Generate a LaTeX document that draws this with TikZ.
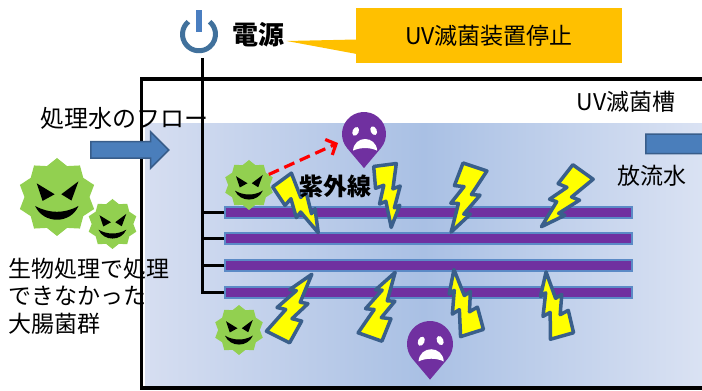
\documentclass[tikz,border=0pt]{standalone}
\usepackage{fontspec}
\setmainfont{Noto Sans CJK JP}
\usetikzlibrary{positioning,shapes.geometric,shapes.arrows,arrows.meta,calc}
\definecolor{uvWaterL}{HTML}{D6DEF1}
\definecolor{uvWaterM}{HTML}{A9C0E4}
\definecolor{uvWaterR}{HTML}{DAE2F3}
\definecolor{uvPowerArc}{HTML}{41719C}
\definecolor{uvPowerBar}{HTML}{4A7EC0}
\definecolor{uvCallout}{HTML}{FFC000}
\definecolor{uvGerm}{HTML}{92D050}
\definecolor{uvDead}{HTML}{7030A0}
\definecolor{uvLampLine}{HTML}{5B8AC6}
\definecolor{uvBoltLine}{HTML}{3A5F8B}
\definecolor{uvBoltFill}{HTML}{FFFF00}
\definecolor{uvFlowFill}{HTML}{4A7EBB}
\definecolor{uvFlowLine}{HTML}{385D8A}
\definecolor{uvRed}{HTML}{FF0000}

\begin{document}
\begin{tikzpicture}[
    x=1pt, y=1pt,
    >=Stealth,
    wire/.style={line width=3pt, black},
    lamp/.style={
        rectangle,
        fill=uvDead,
        draw=uvLampLine,
        line width=2pt,
        minimum width=407pt,
        minimum height=11pt,
        inner sep=0pt,
    },
    flow/.style={
        single arrow,
        fill=uvFlowFill,
        draw=uvFlowLine,
        line width=1.5pt,
        single arrow head extend=10pt,
    },
    jp/.style={font=\fontsize{23}{27.5}\selectfont, inner sep=0pt},
    jpbold/.style={font=\fontsize{25}{30}\selectfont\bfseries, inner sep=0pt},
    germbody/.style={star, star points=10, star point ratio=1.2, fill=uvGerm, inner sep=0pt},
    pics/germ/.style={code={
        \node[germbody, minimum size=2*#1] (-body) at (0,0) {};
        \begin{scope}[scale=#1]
            % angry eyes and grin
            \fill (-0.52,0.35) -- (-0.06,0.07) -- (-0.37,-0.10) -- cycle;
            \fill (0.55,0.40) -- (0.11,0.07) -- (0.37,-0.09) -- cycle;
            \fill (-0.56,-0.23) .. controls (-0.2,-0.43) and (0.2,-0.43) .. (0.55,-0.23)
                .. controls (0.35,-0.70) and (-0.35,-0.70) .. cycle;
        \end{scope}
    }},
    pics/deadgerm/.style={code={
        \begin{scope}[scale=#1]
            \fill[uvDead] (0,-1.55) -- (-40.2:1) arc[start angle=-40.2, end angle=219.8, radius=1] -- cycle;
            \fill[white, rotate around={-25:(-0.38,0.12)}] (-0.38,0.12) ellipse[x radius=0.14, y radius=0.21];
            \fill[white, rotate around={25:(0.44,0.15)}] (0.44,0.15) ellipse[x radius=0.14, y radius=0.21];
            \fill[white] (-0.5,-0.76) .. controls (-0.45,-0.05) and (0.55,-0.05) .. (0.6,-0.76)
                .. controls (0.3,-0.6) and (-0.2,-0.6) .. cycle;
            \coordinate (-hit) at (-1.18,-0.41);
        \end{scope}
    }},
    pics/flash/.style={code={
        \draw[uvBoltLine, fill=uvBoltFill, line width=3.5pt, line join=round]
            (0,-12) -- (0,12) -- (26,5) -- (24,13) -- (46,4) -- (44,10) -- (66,-2)
            -- (38,-4) -- (40,-11) -- (21,-4) -- (23,-13) -- cycle;
    }},
]
    \useasboundingbox (0,0) rectangle (702,391);
    \clip (0,0) rectangle (702,391);

    % Tank with water
    \shade[left color=uvWaterL, right color=uvWaterR, middle color=uvWaterM] (145,5) rectangle (702,267);
    \draw[line width=3.5pt] (710,312) -| (141.5,3) -- (710,3);

    % UV lamps
    \node[lamp] (lamp1) at (428.5,178) {};
    \node[lamp] (lamp2) at (428.5,152) {};
    \node[lamp] (lamp3) at (428.5,125) {};
    \node[lamp] (lamp4) at (428.5,98.5) {};

    % Power switch and supply line
    \node[circle, minimum size=38pt, inner sep=0pt] (power) at (199,356.7) {};
    \draw[uvPowerArc, line width=5pt] ($(power.center)+(130:16.5)$) arc[start angle=130, end angle=410, radius=16.5];
    \draw[uvPowerBar, line width=6.7pt] ($(power.center)+(0,2.3)$) -- ++(0,22);
    \coordinate (bus) at (202,333);
    \draw[wire] (bus) |- (lamp4.west);
    \draw[wire] (lamp1.west) -- (lamp1.west -| bus);
    \draw[wire] (lamp2.west) -- (lamp2.west -| bus);
    \draw[wire] (lamp3.west) -- (lamp3.west -| bus);

    \node[jpbold, font=\fontsize{26}{30}\selectfont\bfseries] (mains) at (258.5,356) {電源};
    \node[rectangle, fill=uvCallout, minimum width=266pt, minimum height=55pt, jp] (notice) at (489,355.5) {UV滅菌装置停止};
    \fill[uvCallout] ($(mains.east)+(2,-6)$) -- ($(notice.west)+(1,-4)$) -- ($(notice.west)+(1,-18.5)$) -- cycle;

    % Germs
    \pic (germA) at (57,194) {germ=39};
    \pic (germB) at (112.5,167) {germ=25};
    \pic (germC) at (249,206) {germ=25};
    \pic (germD) at (239,61) {germ=25};

    % Inactivated germs
    \pic (deadA) at (364,257) {deadgerm=22};
    \pic (deadB) at (430,47) {deadgerm=23};

    % UV rays
    \pic[rotate=-53.8, scale=0.97] at (282,211) {flash};
    \pic[rotate=-82.6, scale=0.95] at (385,226) {flash};
    \pic[rotate=-108.4, scale=1.05] at (475,224) {flash};
    \pic[rotate=-125.5, scale=1.04] at (583,219) {flash};
    \pic[rotate=63.4, scale=1.08] at (278,54) {flash};
    \pic[rotate=70.5, scale=1.05] at (370,54) {flash};
    \pic[rotate=107.6, scale=1.0] at (472,58) {flash};
    \pic[rotate=105.7, scale=1.0] at (562,55) {flash};

    \draw[uvRed, line width=3.2pt, dash pattern=on 11pt off 6pt, -{Straight Barb[length=8pt, width=17pt]}] (germC-body.28) -- (deadA-hit);

    % Flow arrows
    \node[flow, inner sep=7.5pt, minimum height=78pt, anchor=west] (inflow) at (90,241) {};
    \node[flow, inner sep=9pt, minimum height=100pt, anchor=west] (outflow) at (645,247) {};

    % Labels
    \node[jp, font=\fontsize{24}{28}\selectfont, anchor=west] (inlbl) at (40,273) {処理水のフロー};
    \node[jp, anchor=west, align=left] (survlbl) at (8,95) {生物処理で処理\\できなかった\\大腸菌群};
    \node[jp] (tanklbl) at (626,289) {UV滅菌槽};
    \node[jp] (outlbl) at (652,215) {放流水};
    \node[jpbold, font=\fontsize{24}{28}\selectfont\bfseries] (uvlbl) at (335,205) {紫外線};

\end{tikzpicture}
\end{document}
